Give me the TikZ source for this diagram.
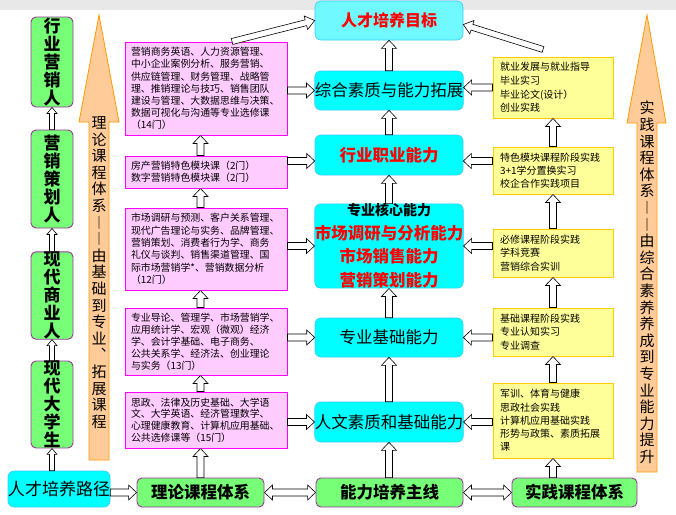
\documentclass[tikz,border=0pt]{standalone}
\usepackage{fontspec}
\setmainfont{Noto Sans CJK SC}
\usetikzlibrary{calc}

\definecolor{pinkfill}{HTML}{FFCCFF}
\definecolor{pinkline}{HTML}{FF00FF}
\definecolor{yellowfill}{HTML}{FFFF99}
\definecolor{yellowline}{HTML}{FFCC00}
\definecolor{cyanfill}{HTML}{00FFFF}
\definecolor{cyanline}{HTML}{33CCFF}
\definecolor{goalfill}{HTML}{70FAFF}
\definecolor{greenfill}{HTML}{77FF77}
\definecolor{greenline}{HTML}{993399}
\definecolor{orangefill}{HTML}{FFCC99}
\definecolor{orangeline}{HTML}{FF9900}

\newcommand\arrsw{3.5}
\newcommand\arrhw{7.5}
\newcommand\arrhl{8}

\tikzset{
  blksize/.code n args={3}{\def\arrsw{#1}\def\arrhw{#2}\def\arrhl{#3}},
  blk/.style={draw=black, fill=white, line width=0.6pt,
    to path={let \p1=(\tikztostart), \p2=(\tikztotarget),
      \n1={atan2(\y2-\y1,\x2-\x1)}, \n2={veclen(\x2-\x1,\y2-\y1)} in
      {[shift={(\p1)}, rotate=\n1]
        (0,\arrsw) -- ({\n2-\arrhl},\arrsw) -- ({\n2-\arrhl},\arrhw) -- (\n2,0)
        -- ({\n2-\arrhl},-\arrhw) -- ({\n2-\arrhl},-\arrsw) -- (0,-\arrsw) -- cycle}}},
  blkboth/.style={draw=black, fill=white, line width=0.6pt,
    to path={let \p1=(\tikztostart), \p2=(\tikztotarget),
      \n1={atan2(\y2-\y1,\x2-\x1)}, \n2={veclen(\x2-\x1,\y2-\y1)} in
      {[shift={(\p1)}, rotate=\n1]
        (0,0) -- (\arrhl,\arrhw) -- (\arrhl,\arrsw) -- ({\n2-\arrhl},\arrsw)
        -- ({\n2-\arrhl},\arrhw) -- (\n2,0) -- ({\n2-\arrhl},-\arrhw)
        -- ({\n2-\arrhl},-\arrsw) -- (\arrhl,-\arrsw) -- (\arrhl,-\arrhw) -- cycle}}}
}

\begin{document}
\begin{tikzpicture}
  [
    x=1pt, y=-1pt,
    course/.style =
      {draw=pinkline, fill=pinkfill, line width=1pt, rectangle, align=left,
       text width=150pt, inner xsep=5pt, inner ysep=0pt, minimum width=162pt,
       font=\fontsize{9.9}{12.2}\selectfont},
    practice/.style =
      {draw=yellowline, fill=yellowfill, line width=1pt, rectangle, align=left,
       text width=106pt, inner xsep=7pt, inner ysep=0pt, minimum width=120pt,
       font=\fontsize{10}{13.6}\selectfont},
    ability/.style =
      {draw=cyanline, fill=cyanfill, line width=0.6pt, rounded corners=6pt,
       align=center, inner sep=0pt, minimum width=148pt, minimum height=39pt,
       font=\fontsize{16.5}{20}\selectfont},
    system/.style =
      {draw=greenline, fill=greenfill, line width=0.9pt, rounded corners=5pt,
       inner sep=0pt, minimum height=29pt, font=\bfseries\fontsize{16.5}{20}\selectfont},
    person/.style =
      {draw=greenline, fill=greenfill, line width=0.9pt, rounded corners=5pt,
       align=center, inner sep=0pt, minimum width=42pt,
       font=\bfseries\fontsize{17}{18}\selectfont},
    vtext/.style =
      {align=center, inner sep=0pt, font=\fontsize{15}{16.6}\selectfont}
  ]
  \useasboundingbox (0,0) rectangle (676,514);
  \fill [gray!18] (0,0) rectangle (676,10);

  % orange direction arrows
  \draw [orangeline, fill=orangefill, line width=0.8pt]
    (99,15) -- (119,122) -- (109,122) -- (109,460) -- (89,460) -- (89,122) -- (79,122) -- cycle;
  \draw [orangeline, fill=orangefill, line width=0.8pt]
    (647,15) -- (666,123) -- (657,123) -- (657,472) -- (637,472) -- (637,123) -- (627,123) -- cycle;
  \node [vtext] at (99,272.5) (ltext)
    {理\\论\\课\\程\\体\\系\\︱\\︱\\由\\基\\础\\到\\专\\业\\︑\\拓\\展\\课\\程};
  \node [vtext] at (647,282.5) (rtext)
    {实\\践\\课\\程\\体\\系\\︱\\︱\\由\\综\\合\\素\\养\\养\\成\\到\\专\\业\\能\\力\\提\\升};

  % left column
  \node [person, minimum height=90pt] at (52,62)    (lg1) {行\\业\\营\\销\\人};
  \node [person, minimum height=98pt] at (52,179)   (lg2) {营\\销\\策\\划\\人};
  \node [person, minimum height=85pt] at (52,295.5) (lg3) {现\\代\\商\\业\\人};
  \node [person, minimum height=85pt] at (52,404.5) (lg4) {现\\代\\大\\学\\生};
  \node [ability, minimum width=94pt, minimum height=36pt,
         font=\fontsize{17}{20}\selectfont] at (59,489) (route) {人才培养路径};

  % theory courses
  \node [course, minimum height=93pt] at (206,88.5) (p1)
    {营销商务英语、人力资源管理、\\中小企业案例分析、服务营销、\\供应链管理、财务管理、战略管\\理、推销理论与技巧、销售团队\\建设与管理、大数据思维与决策、\\数据可视化与沟通等专业选修课\\（14门）};
  \node [course, minimum height=32pt, font=\fontsize{9.9}{11.7}\selectfont] at (206,172) (p2)
    {房产营销特色模块课（2门）\\数字营销特色模块课（2门）};
  \node [course, minimum height=82pt, font=\fontsize{9.9}{12.4}\selectfont] at (206,249) (p3)
    {市场调研与预测、客户关系管理、\\现代广告理论与实务、品牌管理、\\营销策划、消费者行为学、商务\\礼仪与谈判、销售渠道管理、国\\际市场营销学*、营销数据分析\\（12门）};
  \node [course, minimum height=67pt, font=\fontsize{9.9}{12}\selectfont] at (206,341.5) (p4)
    {专业导论、管理学、市场营销学、\\应用统计学、宏观（微观）经济\\学、会计学基础、电子商务、\\公共关系学、经济法、创业理论\\与实务（13门）};
  \node [course, minimum height=56pt, font=\fontsize{9.9}{11.6}\selectfont] at (206,420) (p5)
    {思政、法律及历史基础、大学语\\文、大学英语、经济管理数学、\\心理健康教育、计算机应用基础、\\公共选修课等（15门）};

  % abilities
  \node [ability, fill=goalfill, text=red, font=\bfseries\fontsize{16}{20}\selectfont]
    at (389,20.5) (goal) {人才培养目标};
  \node [ability] at (389,90.5) (c1) {综合素质与能力拓展};
  \node [ability, minimum height=40pt, text=red, font=\bfseries\fontsize{16.5}{20}\selectfont]
    at (389,155) (c2) {行业职业能力};
  \node [ability, minimum height=84pt, text=red, font=\bfseries\fontsize{16.5}{23.5}\selectfont]
    at (389,246) (c3)
    {{\color{black}\fontsize{14}{23.5}\selectfont 专业核心能力}\\市场调研与分析能力\\市场销售能力\\营销策划能力};
  \node [ability] at (389,337.5) (c4) {专业基础能力};
  \node [ability, minimum height=40pt] at (389,422) (c5) {人文素质和基础能力};

  % practice courses
  \node [practice, minimum height=61pt] at (553,87.5) (y1)
    {就业发展与就业指导\\毕业实习\\毕业论文(设计）\\创业实践};
  \node [practice, minimum height=47pt, font=\fontsize{10}{13.3}\selectfont] at (553,170.5) (y2)
    {特色模块课程阶段实践\\3+1学分置换实习\\校企合作实践项目};
  \node [practice, minimum height=48pt, font=\fontsize{10}{13.3}\selectfont] at (553,253) (y3)
    {必修课程阶段实践\\学科竞赛\\营销综合实训};
  \node [practice, minimum height=48pt, font=\fontsize{10}{13.3}\selectfont] at (553,332) (y4)
    {基础课程阶段实践\\专业认知实习\\专业调查};
  \node [practice, minimum height=75pt, font=\fontsize{10}{13.3}\selectfont] at (553,420.5) (y5)
    {军训、体育与健康\\思政社会实践\\计算机应用基础实践\\形势与政策、素质拓展\\课};

  % bottom line
  \node [system, minimum width=127pt] at (200.5,492.5) (theory) {理论课程体系};
  \node [system, minimum width=147pt] at (389.5,492.5) (main)   {能力培养主线};
  \node [system, minimum width=125pt] at (574.5,492.5) (prac)   {实践课程体系};

  \coordinate (c2l) at ([yshift=-6pt]c2.west);
  \coordinate (c2r) at ([yshift=-6pt]c2.east);

  \draw [blk, blksize={2.5}{5}{6}] (route.north -| lg4) to (lg4.south);
  \draw [blk, blksize={2.5}{5}{6}] (lg4.north)          to (lg3.south);
  \draw [blk, blksize={2.5}{5}{6}] (lg3.north)          to (lg2.south);
  \draw [blk, blksize={2.5}{5}{6}] (lg2.north)          to (lg1.south);

  \draw [blk]     (route.east |- theory)        to (theory.west);
  \draw [blkboth] (theory.east)                 to (main.west);
  \draw [blkboth] (main.east)                   to (prac.west);

  \draw [blk] (theory.north)                    to (theory.north |- p5.south);
  \draw [blk] (p5.north -| theory)              to (p4.south -| theory);
  \draw [blk] (p4.north -| theory)              to (p3.south -| theory);
  \draw [blk] (p3.north -| theory)              to (p2.south -| theory);
  \draw [blk] (p2.north -| theory)              to (p1.south -| theory);

  \draw [blk] (main.north -| c5)                to (c5.south);
  \draw [blk] (c5.north)                        to (c4.south);
  \draw [blk] (c4.north)                        to (c3.south);
  \draw [blk] (c3.north)                        to (c2.south);
  \draw [blk] (c2.north)                        to (c1.south);
  \draw [blk] (c1.north)                        to (goal.south);

  \draw [blk] (y5.south |- prac.north)          to (y5.south);
  \draw [blk] (y5.north)                        to (y4.south);
  \draw [blk] (y4.north)                        to (y3.south);
  \draw [blk] (y3.north)                        to (y2.south);
  \draw [blk] (y2.north)                        to (y1.south);

  \draw [blk] (p1.east |- c1)                   to (c1.west);
  \draw [blk] (c2l -| p2.east)                  to (c2l);
  \draw [blk] (p3.east |- c3)                   to (c3.west);
  \draw [blk] (p4.east |- c4)                   to (c4.west);
  \draw [blk] (p5.east |- c5)                   to (c5.west);

  \draw [blk] (y1.west)                         to (y1.west -| c1.east);
  \draw [blk] (c2r -| y2.west)                  to (c2r);
  \draw [blk] (y3.west |- c3)                   to (c3.east);
  \draw [blk] (y4.west |- c4)                   to (c4.east);
  \draw [blk] (y5.west |- c5)                   to (c5.east);

  \draw [blk, blksize={3}{7}{9}] ([xshift=26pt]p1.north)         to (goal.west);
  \draw [blk, blksize={3}{7}{9}] ([xshift=-10pt,yshift=7pt]y1.north) to ([yshift=-4pt]goal.east);
\end{tikzpicture}
\end{document}
